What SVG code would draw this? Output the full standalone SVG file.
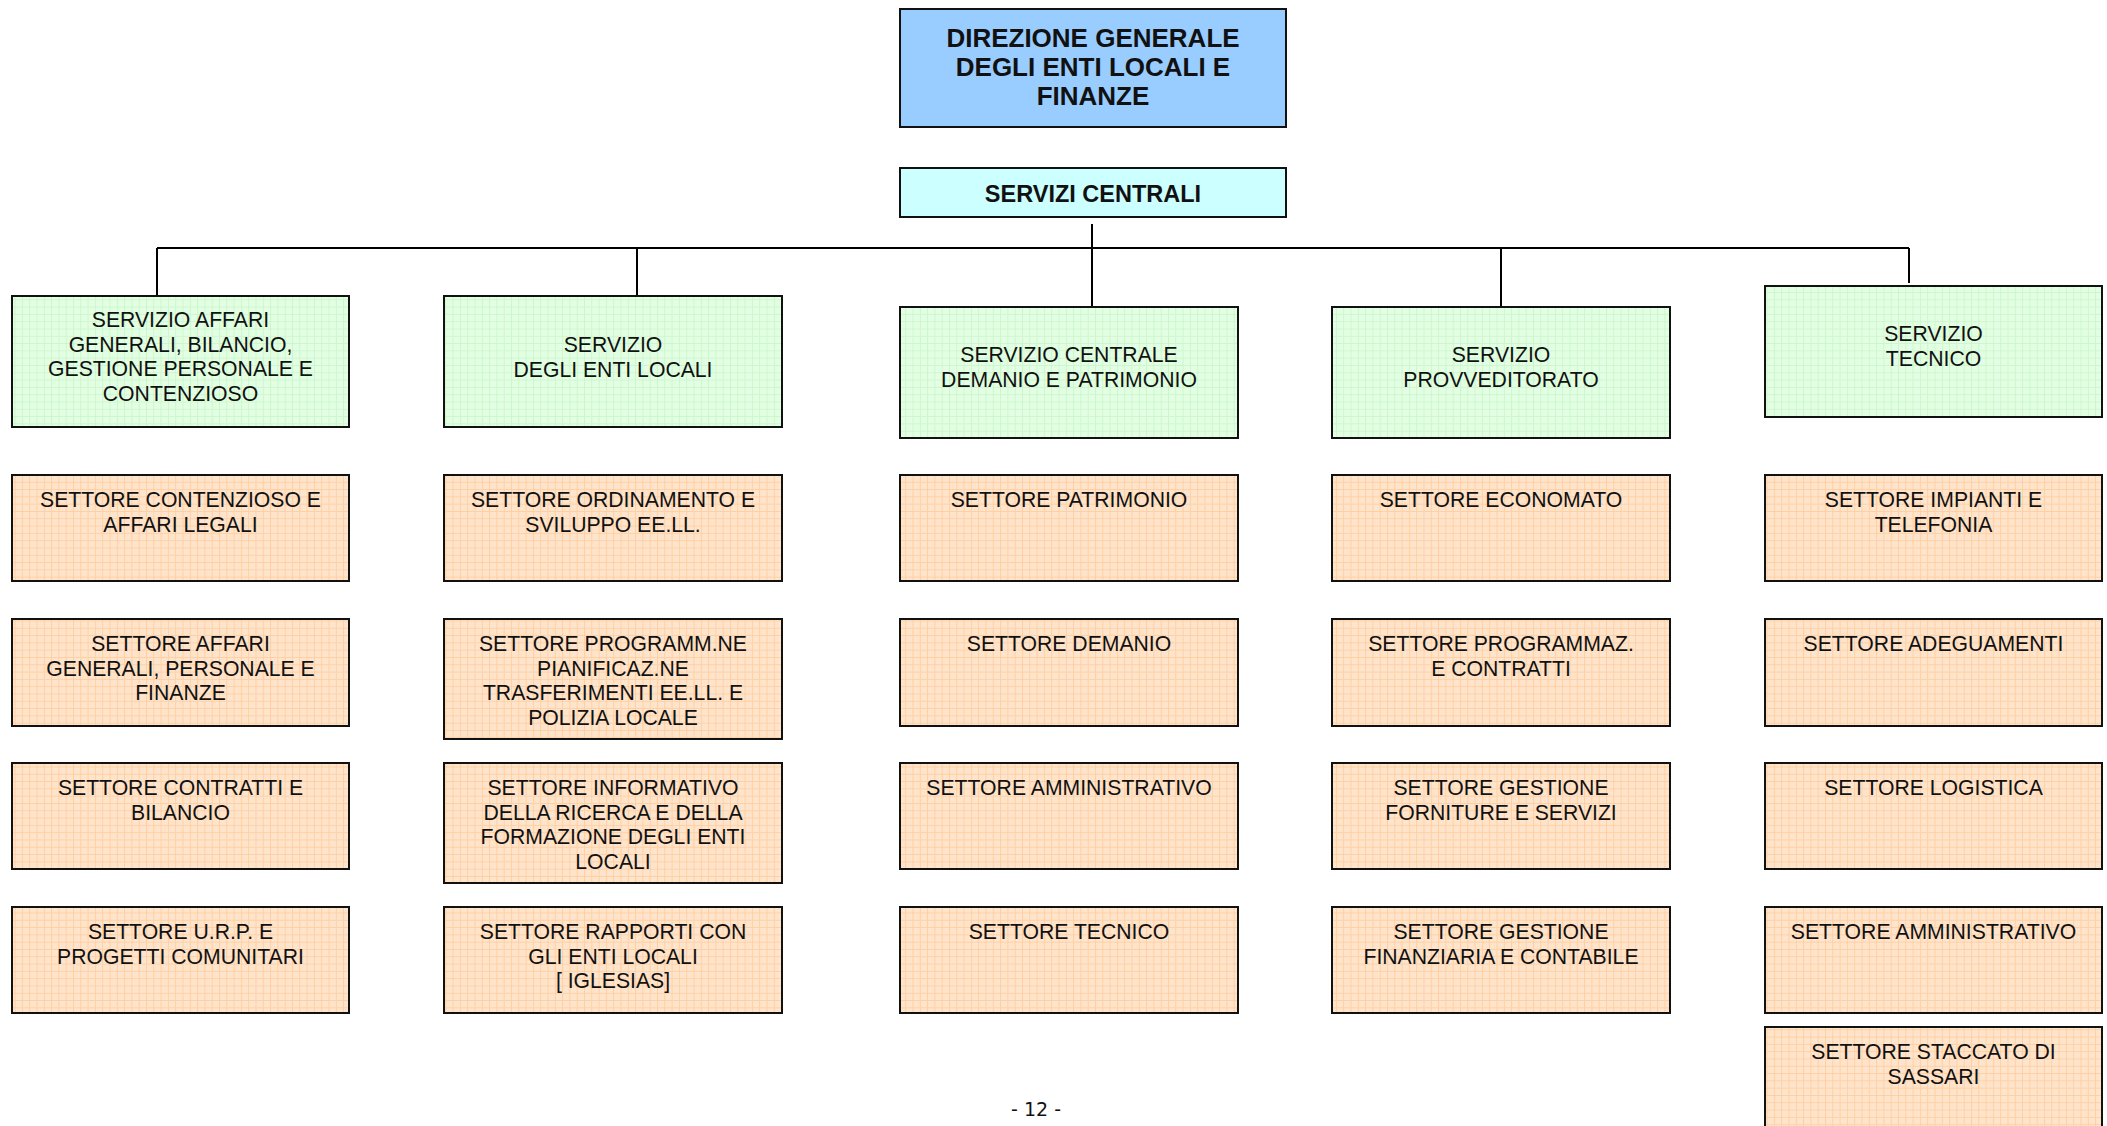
<svg xmlns="http://www.w3.org/2000/svg" width="2107" height="1126" viewBox="0 0 2107 1126">
<style>
.box{stroke:#111;stroke-width:2}
.t{font-family:"Liberation Sans",Arial,sans-serif;font-size:21.2px;fill:#111;text-anchor:middle}
.b{font-family:"Liberation Sans",Arial,sans-serif;font-weight:bold;fill:#111;text-anchor:middle}
.conn{stroke:#000;stroke-width:2;fill:none}
.srv{fill:url(#gridG)}
.set{fill:url(#gridO)}
</style>
<defs>
<pattern id="gridG" width="7.3" height="7.3" patternUnits="userSpaceOnUse"><rect width="7.3" height="7.3" fill="#e3ffe3"/><path d="M0 0.5H7.3M0.5 0V7.3" stroke="#cdf6cd" stroke-width="1"/></pattern>
<pattern id="gridO" width="7.3" height="7.3" patternUnits="userSpaceOnUse"><rect width="7.3" height="7.3" fill="#ffe4cc"/><path d="M0 0.5H7.3M0.5 0V7.3" stroke="#ffcfa2" stroke-width="1"/></pattern>
</defs>
<rect width="2107" height="1126" fill="#fff"/>

<g id="connectors">
<path class="conn" d="M1092 224V307M157 248H1909M157 248V296M637 248V296M1501 248V307M1909 248V283"/>
</g>

<g id="direzione">
<rect class="box" x="900" y="9" width="386" height="118" fill="#99ccff"/>
<text class="b" font-size="26" x="1093" y="47">DIREZIONE GENERALE</text>
<text class="b" font-size="26" x="1093" y="76">DEGLI ENTI LOCALI E</text>
<text class="b" font-size="26" x="1093" y="105">FINANZE</text>
</g>
<g id="servizi-centrali">
<rect class="box" x="900" y="168" width="386" height="49" fill="#ccffff"/>
<text class="b" font-size="23.5" x="1093" y="202">SERVIZI CENTRALI</text>
</g>

<g id="srv1"><rect class="box srv" x="12" y="296" width="337" height="131"/>
<text class="t" x="180.5" y="327">SERVIZIO AFFARI</text><text class="t" x="180.5" y="351.5">GENERALI, BILANCIO,</text><text class="t" x="180.5" y="376">GESTIONE PERSONALE E</text><text class="t" x="180.5" y="400.5">CONTENZIOSO</text></g>
<g id="srv2"><rect class="box srv" x="444" y="296" width="338" height="131"/>
<text class="t" x="613" y="352">SERVIZIO</text><text class="t" x="613" y="376.5">DEGLI ENTI LOCALI</text></g>
<g id="srv3"><rect class="box srv" x="900" y="307" width="338" height="131"/>
<text class="t" x="1069" y="362">SERVIZIO CENTRALE</text><text class="t" x="1069" y="386.5">DEMANIO E PATRIMONIO</text></g>
<g id="srv4"><rect class="box srv" x="1332" y="307" width="338" height="131"/>
<text class="t" x="1501" y="362">SERVIZIO</text><text class="t" x="1501" y="386.5">PROVVEDITORATO</text></g>
<g id="srv5"><rect class="box srv" x="1765" y="286" width="337" height="131"/>
<text class="t" x="1933.5" y="341">SERVIZIO</text><text class="t" x="1933.5" y="365.5">TECNICO</text></g>

<g id="c1r1"><rect class="box set" x="12" y="475" width="337" height="106"/>
<text class="t" x="180.5" y="507">SETTORE CONTENZIOSO E</text><text class="t" x="180.5" y="531.5">AFFARI LEGALI</text></g>
<g id="c1r2"><rect class="box set" x="12" y="619" width="337" height="107"/>
<text class="t" x="180.5" y="651">SETTORE AFFARI</text><text class="t" x="180.5" y="675.5">GENERALI, PERSONALE E</text><text class="t" x="180.5" y="700">FINANZE</text></g>
<g id="c1r3"><rect class="box set" x="12" y="763" width="337" height="106"/>
<text class="t" x="180.5" y="795">SETTORE CONTRATTI E</text><text class="t" x="180.5" y="819.5">BILANCIO</text></g>
<g id="c1r4"><rect class="box set" x="12" y="907" width="337" height="106"/>
<text class="t" x="180.5" y="939">SETTORE U.R.P. E</text><text class="t" x="180.5" y="963.5">PROGETTI COMUNITARI</text></g>

<g id="c2r1"><rect class="box set" x="444" y="475" width="338" height="106"/>
<text class="t" x="613" y="507">SETTORE ORDINAMENTO E</text><text class="t" x="613" y="531.5">SVILUPPO EE.LL.</text></g>
<g id="c2r2"><rect class="box set" x="444" y="619" width="338" height="120"/>
<text class="t" x="613" y="651">SETTORE PROGRAMM.NE</text><text class="t" x="613" y="675.5">PIANIFICAZ.NE</text><text class="t" x="613" y="700">TRASFERIMENTI EE.LL. E</text><text class="t" x="613" y="724.5">POLIZIA LOCALE</text></g>
<g id="c2r3"><rect class="box set" x="444" y="763" width="338" height="120"/>
<text class="t" x="613" y="795">SETTORE INFORMATIVO</text><text class="t" x="613" y="819.5">DELLA RICERCA E DELLA</text><text class="t" x="613" y="844">FORMAZIONE DEGLI ENTI</text><text class="t" x="613" y="868.5">LOCALI</text></g>
<g id="c2r4"><rect class="box set" x="444" y="907" width="338" height="106"/>
<text class="t" x="613" y="939">SETTORE RAPPORTI CON</text><text class="t" x="613" y="963.5">GLI ENTI LOCALI</text><text class="t" x="613" y="988">[ IGLESIAS]</text></g>

<g id="c3r1"><rect class="box set" x="900" y="475" width="338" height="106"/>
<text class="t" x="1069" y="507">SETTORE PATRIMONIO</text></g>
<g id="c3r2"><rect class="box set" x="900" y="619" width="338" height="107"/>
<text class="t" x="1069" y="651">SETTORE DEMANIO</text></g>
<g id="c3r3"><rect class="box set" x="900" y="763" width="338" height="106"/>
<text class="t" x="1069" y="795">SETTORE AMMINISTRATIVO</text></g>
<g id="c3r4"><rect class="box set" x="900" y="907" width="338" height="106"/>
<text class="t" x="1069" y="939">SETTORE TECNICO</text></g>

<g id="c4r1"><rect class="box set" x="1332" y="475" width="338" height="106"/>
<text class="t" x="1501" y="507">SETTORE ECONOMATO</text></g>
<g id="c4r2"><rect class="box set" x="1332" y="619" width="338" height="107"/>
<text class="t" x="1501" y="651">SETTORE PROGRAMMAZ.</text><text class="t" x="1501" y="675.5">E CONTRATTI</text></g>
<g id="c4r3"><rect class="box set" x="1332" y="763" width="338" height="106"/>
<text class="t" x="1501" y="795">SETTORE GESTIONE</text><text class="t" x="1501" y="819.5">FORNITURE E SERVIZI</text></g>
<g id="c4r4"><rect class="box set" x="1332" y="907" width="338" height="106"/>
<text class="t" x="1501" y="939">SETTORE GESTIONE</text><text class="t" x="1501" y="963.5">FINANZIARIA E CONTABILE</text></g>

<g id="c5r1"><rect class="box set" x="1765" y="475" width="337" height="106"/>
<text class="t" x="1933.5" y="507">SETTORE IMPIANTI E</text><text class="t" x="1933.5" y="531.5">TELEFONIA</text></g>
<g id="c5r2"><rect class="box set" x="1765" y="619" width="337" height="107"/>
<text class="t" x="1933.5" y="651">SETTORE ADEGUAMENTI</text></g>
<g id="c5r3"><rect class="box set" x="1765" y="763" width="337" height="106"/>
<text class="t" x="1933.5" y="795">SETTORE LOGISTICA</text></g>
<g id="c5r4"><rect class="box set" x="1765" y="907" width="337" height="106"/>
<text class="t" x="1933.5" y="939">SETTORE AMMINISTRATIVO</text></g>
<g id="c5r5"><rect class="box set" x="1765" y="1027" width="337" height="110"/>
<text class="t" x="1933.5" y="1059">SETTORE STACCATO DI</text><text class="t" x="1933.5" y="1083.5">SASSARI</text></g>

<text x="1036" y="1116" font-family="'DejaVu Sans',sans-serif" font-size="19" fill="#111" text-anchor="middle">- 12 -</text>
</svg>
